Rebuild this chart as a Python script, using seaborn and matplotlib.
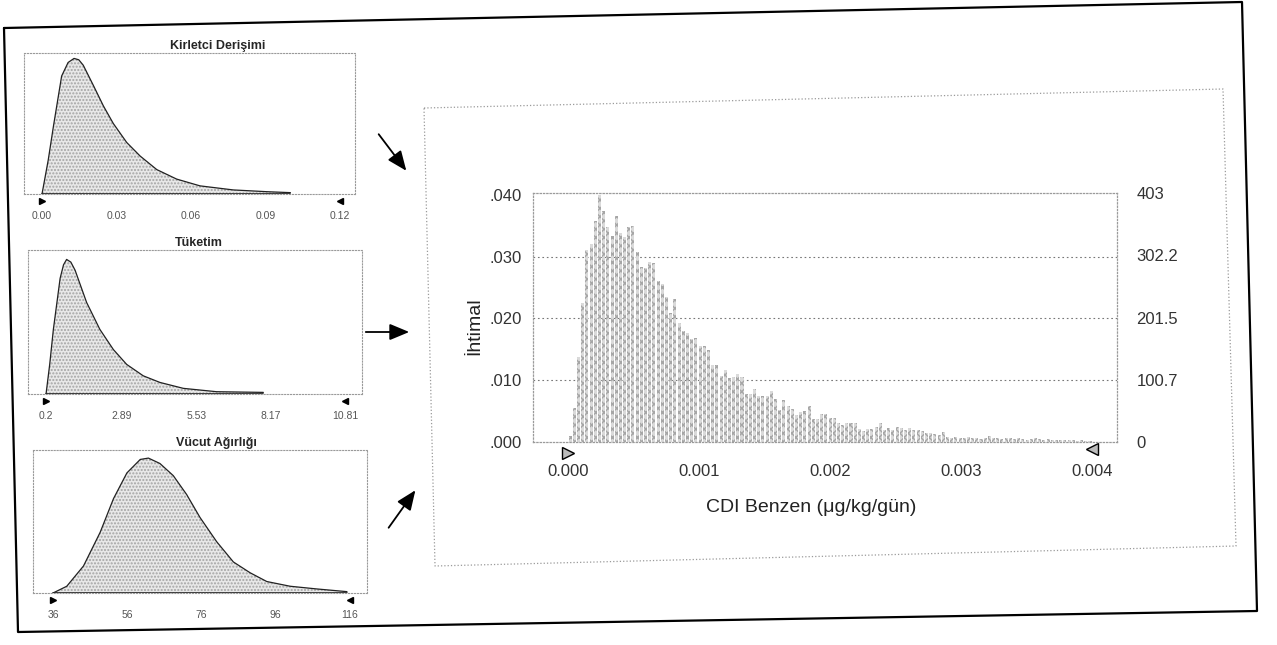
import numpy as np
import pandas as pd
import matplotlib
matplotlib.use("Agg")
import matplotlib.pyplot as plt
import seaborn as sns
from matplotlib.lines import Line2D
from matplotlib.patches import FancyArrowPatch

# Girdi dağılımları (resimden okunan göreli yükseklikler)
kirletici_x = [0.0, 0.0025, 0.0046, 0.0079, 0.0105, 0.0129, 0.0148, 0.0166, 0.0207, 0.0247, 0.0287,
               0.0341, 0.0395, 0.0462, 0.0542, 0.0636, 0.077, 0.0905, 0.100]
kirletici_y = [0.0, 0.25, 0.50, 0.87, 0.97, 1.0, 0.99, 0.95, 0.80, 0.65, 0.52,
               0.38, 0.28, 0.18, 0.11, 0.06, 0.03, 0.017, 0.01]

tuketim_x = [0.2, 0.33, 0.46, 0.70, 0.82, 0.93, 1.08, 1.23, 1.64, 2.11, 2.59, 3.06, 3.65, 4.24,
             5.07, 6.25, 7.91]
tuketim_y = [0.0, 0.22, 0.48, 0.86, 0.96, 1.0, 0.98, 0.92, 0.68, 0.48, 0.33, 0.22, 0.135, 0.086,
             0.042, 0.017, 0.012]

vucut_x = [36, 39.7, 44.2, 48.7, 52.3, 55.9, 59.5, 61.7, 64.8, 68.4, 72.0, 75.6, 80.1,
           84.6, 89.1, 93.6, 99.9, 107.1, 115.2]
vucut_y = [0.0, 0.05, 0.20, 0.45, 0.70, 0.89, 0.99, 1.0, 0.96, 0.87, 0.73, 0.56, 0.38,
           0.23, 0.15, 0.085, 0.05, 0.03, 0.01]

kirletici_ticks = [0.00, 0.03, 0.06, 0.09, 0.12]
kirletici_labels = ["0.00", "0.03", "0.06", "0.09", "0.12"]
tuketim_ticks = [0.2, 2.89, 5.53, 8.17, 10.81]
tuketim_labels = ["0.2", "2.89", "5.53", "8.17", "10.81"]
vucut_ticks = [36, 56, 76, 96, 116]
vucut_labels = ["36", "56", "76", "96", "116"]

# CDI Benzen histogramı (ihtimal, her kutu için)
cdi_olasilik = [
    0.0010, 0.0055, 0.0137, 0.0225, 0.0310, 0.0320, 0.0357, 0.0400, 0.0374, 0.0348,
    0.0333, 0.0366, 0.0338, 0.0331, 0.0348, 0.0349, 0.0307, 0.0284, 0.0282, 0.0292,
    0.0290, 0.0261, 0.0256, 0.0234, 0.0209, 0.0231, 0.0193, 0.0180, 0.0177, 0.0166,
    0.0168, 0.0155, 0.0155, 0.0149, 0.0124, 0.0124, 0.0107, 0.0116, 0.0104, 0.0106,
    0.0110, 0.0106, 0.0078, 0.0078, 0.0086, 0.0074, 0.0074, 0.0074, 0.0082, 0.0069,
    0.0052, 0.0068, 0.0059, 0.0054, 0.0043, 0.0049, 0.0050, 0.0058, 0.0037, 0.0037,
    0.0045, 0.0045, 0.0039, 0.0039, 0.0031, 0.0027, 0.0031, 0.0031, 0.0030, 0.0021,
    0.0018, 0.0021, 0.0021, 0.0024, 0.0031, 0.0020, 0.0023, 0.0020, 0.0024, 0.0022,
    0.0020, 0.0022, 0.0019, 0.0020, 0.0017, 0.0015, 0.0014, 0.0013, 0.0012, 0.0016,
    0.0008, 0.0007, 0.0008, 0.0006, 0.0007, 0.0008, 0.0006, 0.0007, 0.0005, 0.0006,
    0.0009, 0.0006, 0.0007, 0.0005, 0.0006, 0.0007, 0.0005, 0.0006, 0.0005, 0.0004,
    0.0005, 0.0006, 0.0005, 0.0004, 0.0005, 0.0004, 0.0004, 0.0003, 0.0004, 0.0003,
    0.0003, 0.0002, 0.0003, 0.0002, 0.0002,
]
cdi_min, cdi_max = 0.0, 0.004
cdi_xticks = [0.000, 0.001, 0.002, 0.003, 0.004]
cdi_xlabels = ["0.000", "0.001", "0.002", "0.003", "0.004"]
cdi_yticks = [0.000, 0.010, 0.020, 0.030, 0.040]
cdi_ylabels = [".000", ".010", ".020", ".030", ".040"]
frekans_ticks = [0, 100.7, 201.5, 302.2, 403]
frekans_labels = ["0", "100.7", "201.5", "302.2", "403"]

W, H = 1277, 645


def px(x, y):
    return x / W, 1 - y / H


def ax_rect(left, top, right, bottom):
    return [left / W, 1 - bottom / H, (right - left) / W, (bottom - top) / H]


sns.set_theme(style="white")
plt.rcParams["font.family"] = ["Liberation Sans", "DejaVu Sans"]

fig = plt.figure(figsize=(W / 100, H / 100), dpi=100)
fig.patch.set_facecolor("white")

# dış çerçeve (tarama hafif eğik)
dis = [(4, 28), (1242, 2), (1257, 611), (18, 632), (4, 28)]
fig.add_artist(Line2D([px(*p)[0] for p in dis], [px(*p)[1] for p in dis],
                      transform=fig.transFigure, color="black", lw=1.6))
# sağ panel çerçevesi
ic = [(424, 108), (1223, 89), (1236, 546), (435, 566), (424, 108)]
fig.add_artist(Line2D([px(*p)[0] for p in ic], [px(*p)[1] for p in ic],
                      transform=fig.transFigure, color="#9a9a9a", lw=0.9, ls=":"))

kucuk = [
    ("Kirletci Derişimi", kirletici_x, kirletici_y, kirletici_ticks, kirletici_labels,
     (0.00, 0.12), (-0.00725, 0.126), (24, 53, 355, 194), 1.04, 0.586),
    ("Tüketim", tuketim_x, tuketim_y, tuketim_ticks, tuketim_labels,
     (0.2, 10.81), (-0.44, 11.41), (28, 250, 362, 394), 1.07, 0.512),
    ("Vücut Ağırlığı", vucut_x, vucut_y, vucut_ticks, vucut_labels,
     (36, 116), (30.6, 120.6), (33, 450, 367, 593), 1.06, 0.55),
]

for baslik, xs, ys, ticks, labels, sinir, xlim, kutu, ytop, tx in kucuk:
    ax = fig.add_axes(ax_rect(*kutu))
    df = pd.DataFrame({"x": xs, "y": ys})
    ax.fill_between(df["x"], 0, df["y"], facecolor="#e8e8e8", edgecolor="#a4a4a4",
                    hatch=".....", linewidth=0)
    sns.lineplot(data=df, x="x", y="y", ax=ax, color="#222222", lw=0.9)
    ax.plot([xs[0], xs[-1]], [0, 0], color="#222222", lw=1.2)
    ax.plot([sinir[0]], [-0.05], marker=">", ms=5, color="black", clip_on=False)
    ax.plot([sinir[1]], [-0.05], marker="<", ms=5, color="black", clip_on=False)
    ax.set_xlim(*xlim)
    ax.set_ylim(0, ytop)
    ax.set_xticks(ticks)
    ax.set_xticklabels(labels, fontsize=7.5, color="#555555")
    ax.set_yticks([])
    ax.tick_params(axis="x", length=0, pad=12)
    ax.set_xlabel("")
    ax.set_ylabel("")
    for s in ax.spines.values():
        s.set_linestyle(":")
        s.set_color("#9a9a9a")
        s.set_linewidth(0.8)
    ax.set_title(baslik, fontsize=9, fontweight="bold", x=tx, pad=3)

# oklar
for (x0, y0), (x1, y1) in [((377, 132), (408, 173)), ((363, 332), (412, 332)),
                           ((387, 530), (417, 488))]:
    fig.add_artist(FancyArrowPatch(
        px(x0, y0), px(x1, y1), transform=fig.transFigure,
        arrowstyle="-|>,head_length=12,head_width=5", color="black", lw=1.3))

# ana histogram
ax = fig.add_axes(ax_rect(533, 193, 1117, 442))
n = len(cdi_olasilik)
genislik = (cdi_max - cdi_min) / n
hist_df = pd.DataFrame({"cdi": cdi_min + genislik * (np.arange(n) + 0.5), "p": cdi_olasilik})
sns.histplot(data=hist_df, x="cdi", weights="p", bins=n, binrange=(cdi_min, cdi_max),
             stat="count", ax=ax, color="#dadada", edgecolor="#a6a6a6", linewidth=0,
             hatch="xxxx", shrink=0.72, alpha=1)
ax.set_xlim(-0.000267, 0.00419)
ax.set_ylim(0, 0.0403)
ax.set_xticks(cdi_xticks)
ax.set_xticklabels(cdi_xlabels, fontsize=12, color="#333333")
ax.set_yticks(cdi_yticks)
ax.set_yticklabels(cdi_ylabels, fontsize=12, color="#333333")
ax.tick_params(axis="x", length=0, pad=16)
ax.tick_params(axis="y", length=0, pad=8)
for yv in cdi_yticks[1:4]:
    ax.axhline(yv, color="#777777", lw=0.8, ls=(0, (1.5, 2.5)), zorder=0)
for s in ax.spines.values():
    s.set_linestyle(":")
    s.set_color("#9a9a9a")
    s.set_linewidth(0.9)
ax.plot([cdi_min], [-0.0018], marker=">", ms=8, mfc="#bbbbbb", mec="black", clip_on=False)
ax.plot([cdi_max], [-0.0012], marker="<", ms=8, mfc="#bbbbbb", mec="black", clip_on=False)
ax.set_xlabel("CDI Benzen (μg/kg/gün)", fontsize=14, color="#222222")
ax.xaxis.set_label_coords(0.477, -0.23)
ax.set_ylabel("İhtimal", fontsize=14, color="#222222")
ax.yaxis.set_label_coords(-0.085, 0.466)

ax2 = ax.twinx()
ax2.set_ylim(0, 403)
ax2.set_yticks(frekans_ticks)
ax2.set_yticklabels(frekans_labels, fontsize=12, color="#333333")
ax2.tick_params(axis="y", length=0, pad=14)
for s in ax2.spines.values():
    s.set_visible(False)
ax2.grid(False)

fig.savefig("out.png", dpi=100)
